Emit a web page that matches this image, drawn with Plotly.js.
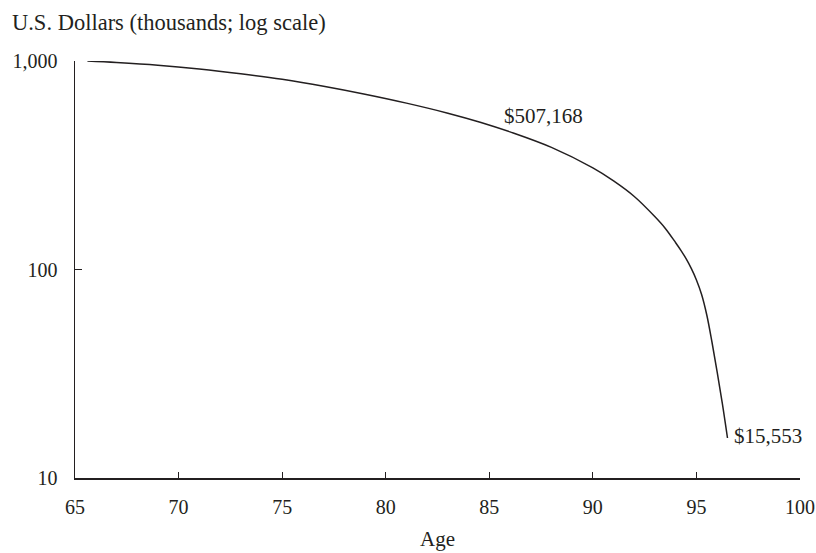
<!DOCTYPE html>
<html>
<head>
<meta charset="utf-8">
<script src="https://cdn.plot.ly/plotly-3.0.1.min.js"></script>
<style>html,body{margin:0;padding:0;background:#fff;}#chart{width:816px;height:553px;}</style>
</head>
<body>
<div id="chart"></div>
<script>
// Age (years)
var ages = [65.6, 67, 69, 71, 73, 75, 77, 79, 81, 83, 84.6, 86, 88, 90, 91, 92, 93, 93.5, 94, 94.25, 94.5, 94.75, 95, 95.25, 95.5, 95.75, 96, 96.25, 96.5];
// Portfolio value (thousands of U.S. dollars)
var values = [1000, 984, 955, 916, 869, 817, 757, 693, 628, 562, 507.168, 457, 385, 307, 266, 224, 179, 157.4, 134.3, 123.6, 112.7, 101.2, 89.1, 75.9, 60.5, 44.9, 32.3, 22.8, 15.553];
var yTickVals = [10, 100, 1000];
var yTickText = ["10", "100", "1,000"];
var xTickVals = [65, 70, 75, 80, 85, 90, 95, 100];
var labelAges = [84.6, 96.5];
var labelValues = [507.168, 15.553];
var labelTexts = ["$507,168", "$15,553"];

var ink = "#231f20";
var fontFam = "Liberation Serif, serif";

var trace = {
  x: ages, y: values, type: "scatter", mode: "lines",
  line: {color: ink, width: 1.5, shape: "spline", smoothing: 1},
  hoverinfo: "skip"
};

var annotations = [
  {x: labelAges[0], y: Math.log10(labelValues[0]), xref: "x", yref: "y", text: labelTexts[0],
   showarrow: false, xanchor: "left", yanchor: "middle", xshift: 21, yshift: 6,
   font: {family: fontFam, size: 21, color: ink}},
  {x: labelAges[1], y: Math.log10(labelValues[1]), xref: "x", yref: "y", text: labelTexts[1],
   showarrow: false, xanchor: "left", yanchor: "middle", xshift: 4, yshift: 2,
   font: {family: fontFam, size: 21, color: ink}}
];

var layout = {
  width: 816, height: 553,
  margin: {l: 75, r: 16, t: 61, b: 75},
  paper_bgcolor: "#fff", plot_bgcolor: "#fff",
  showlegend: false,
  font: {family: fontFam, size: 20, color: ink},
  title: {text: "U.S. Dollars (thousands; log scale)", x: 12/816, xanchor: "left", xref: "container",
          y: 1 - 22/553, yanchor: "middle", yref: "container",
          font: {family: fontFam, size: 22.5, color: ink}},
  xaxis: {
    range: [65, 100], tickvals: xTickVals, ticks: "inside", ticklen: 6, tickwidth: 1.2, tickcolor: ink,
    showline: true, linecolor: ink, linewidth: 1.5, showgrid: false, zeroline: false,
    ticklabelstandoff: 10,
    title: {text: "Age", standoff: 15, font: {family: fontFam, size: 21, color: ink}}
  },
  yaxis: {
    type: "log", range: [1, 3], tickvals: yTickVals, ticktext: yTickText,
    ticks: "inside", ticklen: 7, tickwidth: 1.2, tickcolor: ink,
    showline: true, linecolor: ink, linewidth: 1.5, showgrid: false, zeroline: false,
    ticklabelstandoff: 12
  },
  annotations: annotations
};

Plotly.newPlot("chart", [trace], layout, {staticPlot: true, displayModeBar: false});
</script>
</body>
</html>
